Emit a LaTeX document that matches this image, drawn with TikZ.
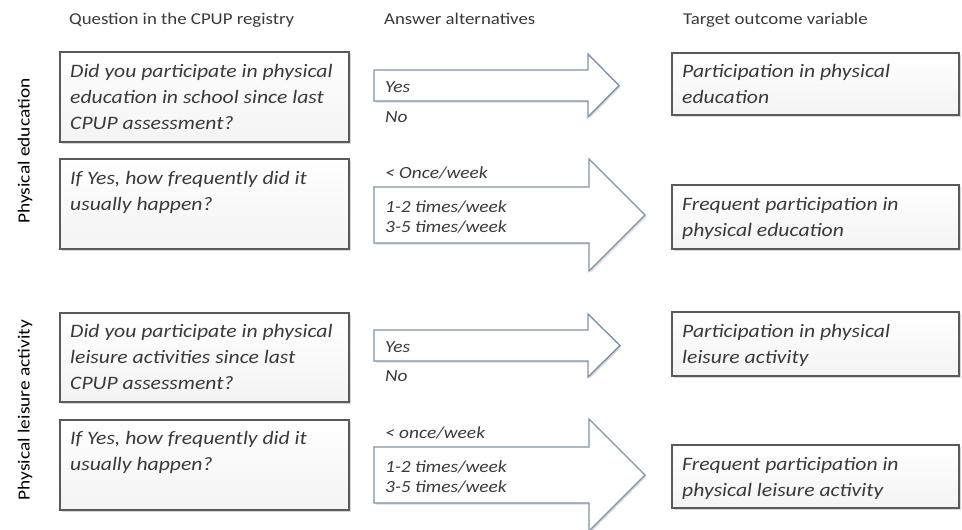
\documentclass[tikz,border=0pt]{standalone}
\usepackage{fontspec}
\setmainfont{Carlito}[FakeStretch=1.14]
\usetikzlibrary{shadows}

\definecolor{txtgray}{HTML}{3A3A3A}
\definecolor{boxline}{HTML}{5A5A5A}
\definecolor{arrowline}{HTML}{7D94AC}

\tikzset{
  qbox/.style={draw=boxline, line width=1.3pt, top color=white, bottom color=gray!9,
    drop shadow={shadow xshift=1.5pt, shadow yshift=-1.5pt, opacity=0.3}, inner sep=0pt},
  qtext/.style={font=\fontsize{19}{26}\selectfont\itshape, align=left, anchor=base west,
    inner sep=0pt, text=txtgray},
  atext/.style={font=\fontsize{17}{19.5}\selectfont\itshape, align=left, anchor=base west,
    inner sep=0pt, text=txtgray},
  head/.style={font=\fontsize{16.5}{20}\selectfont, anchor=base west, inner sep=0pt, text=txtgray},
  side/.style={font=\fontsize{17}{20}\selectfont, rotate=90, inner sep=0pt, text=black},
  answerarrow/.style={draw=arrowline, line width=1.4pt, fill=white, line join=miter,
    drop shadow={shadow xshift=1.5pt, shadow yshift=-1.5pt, opacity=0.3}}
}

\begin{document}
\begin{tikzpicture}[x=1pt,y=-1pt]
  \useasboundingbox (0,0) rectangle (962,530);
  \fill[white] (0,0) rectangle (962,530);

  % column headers
  \node[head] (hq) at (69,24) {Question in the CPUP registry};
  \node[head] (ha) at (384,24) {Answer alternatives};
  \node[head] (ht) at (683,24) {Target outcome variable};

  % side labels
  \node[side] (pe) at (25,151) {Physical education};
  \node[side] (pla) at (25,410) {Physical leisure activity};

  % question boxes
  \node[qbox, minimum width=289pt, minimum height=90pt] (q1) at (204.5,97) {};
  \node[qbox, minimum width=289pt, minimum height=90pt] (q2) at (204.5,204) {};
  \node[qbox, minimum width=289pt, minimum height=89pt] (q3) at (204.5,357.5) {};
  \node[qbox, minimum width=289pt, minimum height=90pt] (q4) at (204.5,465) {};

  % target boxes
  \node[qbox, minimum width=287pt, minimum height=62pt] (t1) at (815.5,84) {};
  \node[qbox, minimum width=287pt, minimum height=64pt] (t2) at (815.5,217) {};
  \node[qbox, minimum width=287pt, minimum height=64pt] (t3) at (815.5,344) {};
  \node[qbox, minimum width=287pt, minimum height=63pt] (t4) at (815.5,476.5) {};

  % answer arrows
  \draw[answerarrow] (374,70) -- (588,70) -- (588,54) -- (619,85.5) -- (588,117) -- (588,101) -- (374,101) -- cycle;
  \draw[answerarrow] (374,187) -- (589,187) -- (589,159) -- (645,215) -- (589,271) -- (589,243) -- (374,243) -- cycle;
  \draw[answerarrow] (374,330) -- (588,330) -- (588,314) -- (620,345.5) -- (588,377) -- (588,361) -- (374,361) -- cycle;
  \draw[answerarrow] (374,447) -- (589,447) -- (589,419) -- (645,475) -- (589,531) -- (589,503) -- (374,503) -- cycle;

  % question texts (anchored on the last line)
  \node[qtext] (q1txt) at (70,129) {Did you participate in physical\\education in school since last\\CPUP assessment?};
  \node[qtext] (q2txt) at (70,210) {If Yes, how frequently did it\\usually happen?};
  \node[qtext] (q3txt) at (70,389) {Did you participate in physical\\leisure activities since last\\CPUP assessment?};
  \node[qtext] (q4txt) at (70,470) {If Yes, how frequently did it\\usually happen?};

  % answers
  \node[atext] (a1yes) at (385,92) {Yes};
  \node[atext] (a1no) at (385,122) {No};
  \node[atext] (a2low) at (385,178) {< Once/week};
  \node[atext] (a2freq) at (385,232) {1-2 times/week\\3-5 times/week};
  \node[atext] (a3yes) at (385,352) {Yes};
  \node[atext] (a3no) at (385,381) {No};
  \node[atext] (a4low) at (385,438) {< once/week};
  \node[atext] (a4freq) at (385,492) {1-2 times/week\\3-5 times/week};

  % target texts
  \node[qtext] (t1txt) at (682,103) {Participation in physical\\education};
  \node[qtext] (t2txt) at (682,236) {Frequent participation in\\physical education};
  \node[qtext] (t3txt) at (682,363) {Participation in physical\\leisure activity};
  \node[qtext] (t4txt) at (682,496) {Frequent participation in\\physical leisure activity};
\end{tikzpicture}
\end{document}
